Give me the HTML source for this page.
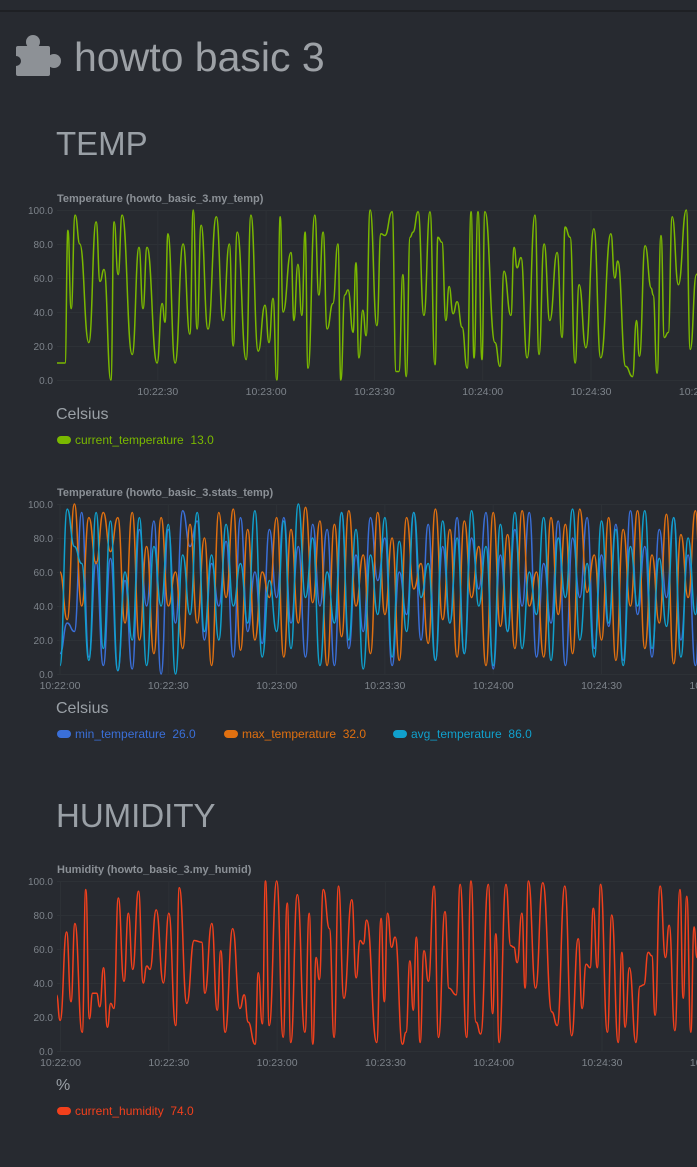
<!DOCTYPE html>
<html><head><meta charset="utf-8">
<style>
html,body{margin:0;padding:0;background:#272a30;width:697px;height:1167px;overflow:hidden;}
svg text{font-family:"Liberation Sans",sans-serif;}
</style></head>
<body>
<svg id="page" width="697" height="1167" viewBox="0 0 697 1167" xmlns="http://www.w3.org/2000/svg">
  <rect x="0" y="0" width="697" height="1167" fill="#272a30"/>
  <rect x="0" y="10" width="697" height="2" fill="#1e2024"/>
  <g fill="#8d9196">
    <rect x="16" y="46" width="34" height="30" rx="2"/>
    <circle cx="33" cy="42" r="7"/>
    <circle cx="54" cy="61" r="7"/>
    <circle cx="16" cy="61" r="5" fill="#272a30"/>
  </g>
  <text x="74" y="71" font-size="41" fill="#9da1a6">howto basic 3</text>
  <text x="56" y="155" font-size="33" fill="#9aa0a6">TEMP</text>
  <text x="56" y="827" font-size="33" fill="#9aa0a6">HUMIDITY</text>
  <g id="charts"></g>
</svg>
<script>
// ---------- Chart 1: current temperature ----------
const tempTimes = [-2,2.1,4.3,5.1,6.0,7.1,8.4,10.9,12.9,14.0,15.1,17.0,17.9,19.0,20.1,22.9,24.8,25.9,27.0,29.8,31.2,32.0,32.8,34.8,37.0,38.9,39.8,40.9,42.0,43.9,46.2,48.1,49.8,50.9,52.0,54.5,55.8,57.8,59.7,60.8,61.9,63.0,63.9,64.7,66.9,67.7,68.8,69.9,70.8,71.6,73.5,74.6,75.8,76.9,78.5,79.9,80.7,81.8,82.7,84.1,84.9,85.7,86.8,87.7,88.8,90.7,91.8,92.9,94.9,96.0,96.8,97.9,98.8,99.9,100.7,102.1,103.7,105.4,106.8,107.6,108.7,109.8,110.7,111.8,112.9,114.3,115.7,116.8,117.6,118.7,119.8,120.6,123.4,124.8,125.9,127.8,128.7,129.5,130.6,132.3,134.5,135.6,137.0,138.6,140.6,142.0,142.8,144.2,145.6,146.7,148.6,150.8,152.7,155.5,156.6,157.4,159.6,161.5,162.6,163.4,165.0,166.7,167.2,168.3,169.4,170.3,171.4,172.5,174.2,176.4,177.5,179.2,180.5];
const tempValues = [10,10,10,88,42,97,80,22,93,58,65,0,93,62,97,15,78,42,78,10,45,34,86,10,80,27,100,30,91,30,96,35,80,20,87,12,97,17,44,22,48,0,96,40,75,35,68,38,87,7,97,50,87,30,45,80,0,50,53,28,69,13,41,26,100,32,86,85,99,5,5,62,2,84,87,99,38,99,9,84,81,35,55,39,46,31,7,99,13,99,12,99,22,8,64,38,78,66,72,13,97,15,80,35,75,25,90,84,10,56,19,89,13,86,60,70,8,2,35,14,79,54,50,4,85,25,28,96,56,100,18,62,70];

// ---------- Chart 2: stats temperature (one sample every 2 s) ----------
const minTemp = [12,30,25,95,10,66,5,68,2,55,3,85,40,90,0,85,30,96,75,90,20,65,40,78,10,92,25,60,18,85,45,92,30,75,10,88,40,85,5,95,15,70,25,92,55,80,5,60,35,95,20,88,8,75,30,92,12,80,50,95,3,70,25,85,40,95,10,65,30,90,5,80,45,92,15,70,28,88,8,96,35,75,10,85,45,92,20,70,5,88];
const maxTemp = [60,32,100,40,92,65,95,72,92,30,95,20,75,12,92,40,60,15,88,30,80,5,95,45,97,14,85,20,60,45,92,10,85,30,98,42,90,5,88,22,96,40,70,12,95,35,80,8,92,50,65,18,97,32,85,10,90,45,75,5,95,28,82,15,96,40,60,10,92,35,88,12,97,48,70,20,92,8,85,40,96,15,70,30,94,6,82,45,96,2];
const avgTemp = [5,97,75,65,8,95,15,90,2,60,20,92,5,75,40,88,0,70,35,95,25,70,20,88,40,65,30,96,10,55,25,90,15,100,45,80,5,60,30,95,20,85,3,70,35,92,10,78,25,95,45,65,8,90,30,80,12,96,40,75,5,88,25,95,15,60,35,92,8,80,45,97,20,65,10,90,30,85,5,75,40,96,15,68,28,92,10,80,35,98];

// ---------- Chart 3: humidity ----------
const humTimes = [-1.1,-0.1,1.7,2.9,4.0,6.0,7.0,8.0,8.9,10.0,10.9,11.9,13.0,13.9,14.8,16.0,17.6,18.8,20.0,21.6,22.9,23.9,24.8,26.5,28.5,30.0,31.9,32.9,35.0,37.0,39.1,40.0,41.9,43.4,44.4,45.6,47.7,49.7,50.9,52.0,53.9,54.8,55.9,56.8,57.8,59.9,61.7,62.8,63.8,65.6,67.7,68.9,69.9,70.8,71.7,72.8,74.5,75.8,77.0,78.5,80.7,81.9,83.0,83.9,84.8,87.6,88.8,89.7,90.6,91.7,92.7,94.7,95.7,96.8,97.7,98.6,99.6,100.7,101.9,103.5,104.7,106.5,107.6,109.6,110.7,112.5,113.7,115.1,116.4,118.5,119.7,120.6,121.5,123.4,124.7,125.6,126.5,127.8,128.7,129.6,131.6,133.6,136.1,137.6,139.7,141.6,143.4,144.5,145.6,146.7,147.6,148.7,149.6,151.5,152.7,154.5,155.5,156.4,157.6,159.4,160.5,161.6,162.8,163.8,164.7,166.1,167.6,168.6,170.2,171.6,172.5,173.5,174.6,175.5,176.3,177.5];
const humValues = [33,18,70,29,75,11,95,19,34,34,26,49,14,28,25,90,41,81,48,94,40,50,48,83,40,81,15,96,28,65,64,34,75,24,59,11,72,25,33,17,4,46,16,100,15,100,8,87,5,92,11,81,4,55,42,95,72,8,97,31,89,43,65,63,77,5,78,29,81,61,67,4,11,53,24,67,5,59,41,97,8,82,37,33,98,8,100,17,10,98,22,69,5,98,62,61,52,81,37,100,37,99,23,15,97,9,66,25,51,49,84,49,98,11,80,5,58,14,49,5,38,39,58,56,21,97,55,74,12,95,31,91,11,73,55,40];

const yTicks = [0,20,40,60,80,100];
const yTickLabels = ["0.0","20.0","40.0","60.0","80.0","100.0"];
const xTickSecs = [0,30,60,90,120,150,180];
const xTickLabels = ["10:22:00","10:22:30","10:23:00","10:23:30","10:24:00","10:24:30","10:25:00"];

const NS = "http://www.w3.org/2000/svg";
const root = document.getElementById('charts');
const PXS = 108.3/30;

function mk(tag, attrs, parent){
  const e = document.createElementNS(NS, tag);
  for (const k in attrs) e.setAttribute(k, attrs[k]);
  parent.appendChild(e);
  return e;
}

function drawChart(cfg){
  const g = mk('g', {}, root);
  
  
  const L = 57, R = 697, T = cfg.top, B = cfg.top + 170;
  const xOf = t => cfg.x0 + t * PXS;
  const yOf = v => B - v / 100 * (B - T);
  const clipId = cfg.name + '-clip';
  const defs = mk('defs', {}, g);
  const cp = mk('clipPath', {id: clipId}, defs);
  mk('rect', {x: L, y: T - 3, width: R - L, height: B - T + 5}, cp);

  const title = mk('text', {x: 57, y: T - 8, 'font-size': 11, 'font-weight': 'bold', fill: '#8b9096'}, g);
  title.textContent = cfg.title;
  
  

  yTicks.forEach((v, i) => {
    const ln = mk('line', {x1: L, x2: R, y1: yOf(v) + 0.5, y2: yOf(v) + 0.5, stroke: '#2d3136', 'stroke-width': 1}, g);
    
    
    const tx = mk('text', {x: 53, y: yOf(v) + 4, 'font-size': 10, fill: '#7d838a', 'text-anchor': 'end'}, g);
    tx.textContent = yTickLabels[i];
    
    
  });
  xTickSecs.forEach((s, i) => {
    const x = xOf(s);
    if (x < L - 1) return;
    if (x <= R) {
      const ln = mk('line', {x1: x, x2: x, y1: T, y2: B, stroke: '#2d3136', 'stroke-width': 1}, g);
      
      
    }
    const tx = mk('text', {x: x, y: B + 15, 'font-size': 10.5, fill: '#7d838a', 'text-anchor': 'middle'}, g);
    tx.textContent = xTickLabels[i];
    
    
  });

  cfg.series.forEach(s => {
    let d = '';
    for (let i = 0; i < s.values.length; i++) {
      const x = xOf(s.times[i]), y = yOf(s.values[i]);
      if (i === 0) d = 'M' + x.toFixed(1) + ' ' + y.toFixed(1);
      else {
        const px = xOf(s.times[i-1]), py = yOf(s.values[i-1]);
        const mx = (px + x) / 2;
        d += ' C' + mx.toFixed(1) + ' ' + py.toFixed(1) + ' ' + mx.toFixed(1) + ' ' + y.toFixed(1) + ' ' + x.toFixed(1) + ' ' + y.toFixed(1);
      }
    }
    const p = mk('path', {d: d, fill: 'none', stroke: s.color, 'stroke-width': 1.5, 'clip-path': 'url(#' + clipId + ')'}, g);
    
    
  });

  const unit = mk('text', {x: 56, y: B + 39, 'font-size': 16, fill: '#9aa0a6'}, g);
  unit.textContent = cfg.unit;
  
  

  cfg.series.forEach(s => {
    const ly = B + 60;
    const lg = mk('g', {}, g);
    
    
    mk('rect', {x: s.lx, y: ly - 4, width: 14, height: 8, rx: 4, fill: s.color}, lg);
    const t = mk('text', {x: s.lx + 18, y: ly + 4, 'font-size': 12, fill: s.color}, lg);
    t.textContent = s.key + '\u00a0\u00a0' + s.last;
  });
}

function idxTimes(arr){ return arr.map((_, i) => i * 2); }

drawChart({name: 'temperature-chart', title: 'Temperature (howto_basic_3.my_temp)', top: 210, x0: 49.5, unit: 'Celsius',
  series: [{key: 'current_temperature', times: tempTimes, values: tempValues, color: '#7ab800', lx: 57, last: '13.0'}]});
drawChart({name: 'stats-temperature-chart', title: 'Temperature (howto_basic_3.stats_temp)', top: 504, x0: 60, unit: 'Celsius',
  series: [
    {key: 'min_temperature', times: idxTimes(minTemp), values: minTemp, color: '#3a6fd8', lx: 57, last: '26.0'},
    {key: 'max_temperature', times: idxTimes(maxTemp), values: maxTemp, color: '#e07010', lx: 224, last: '32.0'},
    {key: 'avg_temperature', times: idxTimes(avgTemp), values: avgTemp, color: '#10a0cc', lx: 393, last: '86.0'}]});
drawChart({name: 'humidity-chart', title: 'Humidity (howto_basic_3.my_humid)', top: 881, x0: 60.5, unit: '%',
  series: [{key: 'current_humidity', times: humTimes, values: humValues, color: '#f2401c', lx: 57, last: '74.0'}]});
</script>
</body></html>
